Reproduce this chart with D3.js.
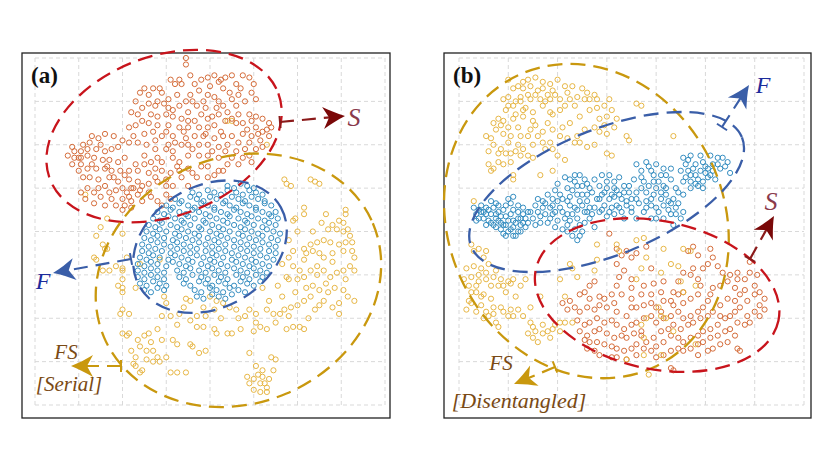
<!DOCTYPE html>
<html>
<head>
<meta charset="utf-8">
<script src="https://cdn.jsdelivr.net/npm/d3@7"></script>
<style>
  body { margin: 0; background: #fff; }
</style>
</head>
<body>
<svg id="chart"></svg>
<script>
// embedding coordinates (grid cell = 20 units)
// panel (a) - serial
const aS = [[69,160],[69,157],[66,150],[71,152],[73,148],[79,151],[82,152],[84,149],[87,151],[90,152],[95,152],[98,151],[100,148],[92,148],[80,147],[86,146],[64,148],[67,148],[57,146],[54,146],[50,146],[48,144],[52,143],[58,144],[61,141],[69,140],[72,140],[75,145],[79,143],[82,142],[89,144],[93,143],[99,144],[101,141],[96,140],[92,138],[86,138],[83,137],[78,137],[74,138],[66,138],[61,137],[56,140],[55,138],[46,140],[44,135],[47,134],[49,137],[53,134],[56,133],[60,134],[63,133],[67,132],[70,131],[73,131],[76,134],[79,132],[84,134],[88,135],[93,134],[98,134],[101,133],[104,132],[107,130],[108,128],[104,126],[101,128],[99,131],[95,130],[92,130],[87,131],[82,129],[79,128],[75,128],[70,128],[66,128],[61,129],[56,129],[52,130],[49,131],[46,129],[43,128],[50,125],[54,126],[58,124],[63,124],[64,121],[69,123],[73,124],[77,124],[82,123],[86,124],[90,124],[95,125],[99,124],[103,122],[107,124],[104,119],[101,118],[98,121],[93,121],[88,120],[84,119],[79,120],[75,120],[72,118],[67,120],[63,117],[60,118],[55,118],[51,120],[47,121],[43,121],[40,122],[36,124],[32,125],[29,123],[26,124],[35,118],[32,117],[28,118],[24,118],[21,117],[18,117],[15,115],[18,114],[21,114],[24,115],[27,114],[31,113],[34,113],[38,112],[41,114],[46,111],[50,111],[53,112],[58,112],[63,114],[66,112],[70,115],[75,115],[79,115],[84,114],[87,117],[92,117],[95,114],[98,115],[99,112],[93,111],[88,111],[76,110],[70,109],[66,108],[62,107],[58,108],[55,109],[52,107],[47,108],[43,108],[39,108],[35,108],[32,109],[28,109],[24,109],[21,111],[20,108],[22,105],[25,105],[29,104],[34,105],[38,103],[43,104],[47,103],[52,102],[56,103],[60,101],[63,101],[67,105],[70,101],[74,105],[79,105],[82,106],[86,108],[29,100],[32,101],[37,99],[40,100],[44,100],[49,101],[52,98],[24,100],[21,98],[23,95],[27,93],[30,96],[35,95],[40,95],[43,96],[47,97],[49,94],[41,92],[44,91],[37,92],[32,92],[40,90],[53,96],[56,94],[60,97],[58,92],[62,95],
[62,150],[76,150],[85,150],[94,146],[90,141],[84,140],[77,140],[71,143],[65,143],[59,139],[52,139],[63,136],[70,135],[81,133],[90,132],[97,127],[85,126],[78,125],[68,126],[60,126],[55,122],[61,120],[70,120],[81,117],[90,114],[96,118],[102,125],[106,127],[45,124],[38,119],[30,120],[25,121],[20,114],[17,111],[26,111],[33,110],[36,105],[41,106],[45,100],[55,105],[60,104],[65,110],[72,107],[79,110],[84,108],[27,98],[34,98],[42,98],[44,94],[48,99],[17,119],[22,120],[50,115],[56,114]];

const aF = [[88,101],[91,100],[94,102],[97,101],[100,100],
[72,98],[75,97],[79,99],[82,98],[85,97],[88,99],[92,98],[95,97],[98,99],[101,98],[104,97],
[64,95],[67,94],[71,96],[74,95],[77,94],[80,96],[83,95],[87,94],[90,96],[93,95],[96,94],[99,96],[102,95],[105,94],
[60,92],[63,91],[66,93],[70,92],[73,91],[76,93],[79,92],[82,91],[86,93],[89,92],[92,91],[95,93],[98,92],[101,91],[105,93],[108,92],
[56,89],[59,88],[62,90],[66,89],[69,88],[72,90],[75,89],[78,88],[82,90],[85,89],[88,88],[91,90],[94,89],[97,88],[101,90],[104,89],[107,88],[110,89],
[54,86],[57,85],[61,87],[64,86],[67,85],[70,87],[73,86],[77,85],[80,87],[83,86],[86,85],[89,87],[93,86],[96,85],[99,87],[102,86],[105,85],[108,87],[111,86],
[52,83],[55,82],[58,84],[62,83],[65,82],[68,84],[71,83],[75,82],[78,84],[81,83],[84,82],[88,84],[91,83],[94,82],[97,84],[100,83],[104,82],[107,84],[110,83],
[51,80],[54,79],[57,81],[60,80],[64,79],[67,81],[70,80],[73,79],[76,81],[80,80],[83,79],[86,81],[89,80],[93,79],[96,81],[99,80],[102,79],[106,81],[109,80],[112,79],
[50,77],[53,76],[56,78],[59,77],[63,76],[66,78],[69,77],[72,76],[75,78],[79,77],[82,76],[85,78],[88,77],[91,76],[95,78],[98,77],[101,76],[104,78],[108,77],[111,76],
[49,74],[52,73],[56,75],[59,74],[62,73],[65,75],[68,74],[71,73],[75,75],[78,74],[81,73],[84,75],[87,74],[91,73],[94,75],[97,74],[100,73],[104,75],[107,74],[110,73],
[49,71],[52,70],[55,72],[58,71],[62,70],[65,72],[68,71],[71,70],[74,72],[78,71],[81,70],[84,72],[87,71],[90,70],[94,72],[97,71],[100,70],[103,72],[107,71],[110,70],
[48,68],[51,67],[54,69],[57,68],[61,67],[64,69],[67,68],[70,67],[74,69],[77,68],[80,67],[83,69],[86,68],[90,67],[93,69],[96,68],[99,67],[103,69],[106,68],[109,67],
[47,65],[50,64],[53,66],[56,65],[60,64],[63,66],[66,65],[69,64],[72,66],[76,65],[79,64],[82,66],[85,65],[88,64],[92,66],[95,65],[98,64],[101,66],[104,65],[107,64],
[47,62],[50,61],[53,63],[56,62],[59,61],[65,62],[68,61],[71,63],[75,62],[78,61],[81,63],[84,62],[87,61],[91,63],[94,62],[97,61],[100,63],[103,62],[106,61],
[47,59],[50,58],[53,60],[56,59],[59,58],[66,59],[69,58],[72,60],[76,59],[79,58],[82,60],[85,59],[88,58],[92,60],[95,59],[98,58],[101,60],[104,59],
[48,56],[51,55],[54,57],[57,56],[60,55],[68,56],[71,55],[75,57],[78,56],[81,55],[84,57],[87,56],[91,55],[94,57],[97,56],[100,55],[103,57],
[50,53],[53,52],[56,54],[59,53],[73,53],[76,52],[80,54],[83,53],[86,52],[89,54],[93,53],[96,52],
[74,50],[77,49],[81,51],[84,50],[87,49],[90,51]];

const aFS = [[114,104],[117,101],[115,102],[123,91],[123,88],[118,85],[119,86],[133,88],[134,81],[139,85],[141,84],[142,90],[142,88],[138,81],[141,80],[143,81],[144,78],[142,75],[139,74],[135,75],[132,76],[129,75],[126,74],[123,72],[118,71],[116,76],[116,68],[113,65],[118,64],[123,67],[124,70],[127,71],[130,70],[132,68],[136,70],[141,71],[145,71],[146,68],[144,64],[141,62],[138,61],[135,59],[132,62],[129,64],[126,62],[123,59],[120,58],[116,58],[115,59],[124,54],[127,55],[130,53],[133,56],[137,54],[141,53],[143,50],[146,48],[139,47],[139,42],[136,45],[132,48],[130,46],[126,50],[123,48],[120,46],[117,45],[114,44],[112,42],[110,38],[116,41],[121,36],[123,35],[118,36],[104,54],[106,44],[109,42],[101,42],[98,44],[96,41],[92,44],[89,45],[86,47],[83,48],[80,50],[82,44],[78,41],[74,41],[71,39],[68,45],[66,42],[62,41],[58,41],[71,48],[69,49],[74,36],[77,36],[82,35],[83,33],[88,33],[90,33],[101,38],[103,36],[106,35],[100,34],[59,50],[60,47],[56,35],[52,33],[50,32],[43,33],[40,33],[42,32],[44,25],[48,27],[51,25],[54,25],[56,22],[51,21],[46,22],[45,19],[49,16],[48,15],[54,20],[57,20],[62,15],[65,15],[69,15],[71,28],[72,27],[75,24],[78,25],[65,28],[63,30],[94,35],[98,24],[101,18],[104,16],[109,16],[110,21],[108,22],[104,13],[103,10],[98,10],[97,13],[100,7],[106,8],[107,12],[103,6],[106,6],[40,44],[43,42],[39,42],[40,54],[40,58],[46,54],[48,65],[57,67],[40,62],[34,62],[31,62],[28,67],[33,72],[28,78],[30,82],[33,86],[40,79],[126,104],[128,103],[130,102],[27,68],[32,72],[37,64],[40,63],[42,68],[38,55],[40,52],[31,74],[88,131],[90,131],[106,120],[23,97],
[120,80],[127,80],[131,84],[136,83],[145,75],[136,66],[129,60],[134,52],[121,62],[111,55],[107,48],[113,50],[119,52],[128,44],[142,58],[146,62],[125,40],[115,35],[93,40],[85,40],[77,45],[65,37],[58,30],[47,30],[53,29],[60,22],[46,18],[102,14],[105,10],[100,12]];

// panel (b) - disentangled
const bFS = [[28,150],[26,149],[24,147],[22,146],[26,146],[29,147],[34,149],[37,148],[40,150],[43,147],[46,147],[34,146],[38,145],[36,143],[33,141],[37,141],[29,141],[25,140],[20,142],[19,136],[23,134],[26,136],[26,133],[22,132],[18,131],[16,132],[14,130],[17,129],[20,128],[24,128],[30,131],[31,129],[34,138],[37,135],[38,134],[41,136],[43,138],[45,141],[41,141],[50,146],[52,144],[55,143],[56,141],[53,141],[51,141],[47,138],[53,136],[56,137],[59,138],[61,141],[62,136],[64,132],[60,133],[59,129],[57,126],[60,125],[55,128],[51,127],[48,124],[44,123],[47,121],[49,121],[42,128],[38,127],[34,126],[32,124],[28,124],[25,124],[21,124],[20,121],[13,123],[11,124],[14,120],[17,118],[16,116],[19,116],[21,116],[23,117],[26,118],[30,120],[34,121],[37,121],[38,118],[35,118],[28,115],[25,115],[21,112],[18,111],[16,112],[12,111],[13,108],[14,109],[22,106],[22,104],[33,106],[38,108],[43,113],[52,119],[60,116],[62,115],[68,124],[69,122],[72,139],[74,138],[87,124],[6,94],[18,141],[20,138],[22,138],[28,143],[31,143],[25,142],
[23,140],[27,137],[30,135],[32,145],[35,140],[39,143],[44,144],[48,142],[49,133],[45,130],[41,124],[36,130],[29,127],[18,125],[15,127],[12,117],[24,120],[30,114],[40,115],[57,132],[63,128],[55,120],[20,150],[31,151],
[6,71],[10,68],[11,71],[3,63],[6,64],[9,63],[11,61],[2,58],[5,59],[8,57],[11,58],[14,59],[17,58],[20,57],[22,58],[25,55],[16,55],[18,55],[21,56],[7,55],[5,52],[7,52],[10,51],[13,49],[14,45],[17,45],[4,48],[5,47],[9,46],[7,43],[11,43],[12,41],[15,38],[16,36],[18,43],[20,41],[22,41],[24,44],[21,44],[29,38],[30,36],[28,33],[30,31],[32,29],[34,33],[36,34],[38,35],[34,37],[39,37],[41,38],[46,38],[43,38],[27,58],[33,50],[41,58],[43,50],[46,63],[45,65],[48,59],[56,74],[56,67],[55,62],[64,74],[65,71],[72,76],[75,77],[72,58],[74,63],[76,68],[82,61],[86,65],[89,64],[91,72],[94,71],[83,72],[90,57],[91,52],[96,55],[81,45],[76,40],[74,37],[75,31],[82,41],[84,40],[68,21],[77,14],[75,23],[82,23],[87,34],[96,28],[5,74],[8,72],
[4,55],[9,50],[13,55],[19,52],[23,50],[8,60],[12,65],[15,62],[3,44],[10,40],[14,42],[26,41],[31,34],[37,31],[41,34],[29,45]];

const bF = [[6,91],[7,88],[7,85],[9,89],[10,86],[11,91],[13,88],[14,91],[15,86],[16,89],[17,84],[18,90],[19,87],[19,83],[20,80],[21,88],[22,85],[22,82],[23,78],[24,89],[24,86],[25,83],[26,88],[20,95],[22,96],[19,78],[22,78],[24,80],[27,86],[28,89],[11,83],[13,84],[15,82],[17,81],[9,92],[13,94],[16,92],[24,92],[29,89],[8,90],[17,87],[26,84],[15,88],[20,85],
[8,86],[10,89],[12,85],[14,83],[16,85],[18,83],[21,81],[23,84],[25,86],[27,82],[12,90],[15,93],[19,92],[22,90],[26,91],[28,84],[11,88],[21,93],[18,79],[25,80],
[30,86],[32,89],[33,84],[32,95],[34,94],[36,97],[37,91],[38,88],[40,94],[38,95],[40,85],[42,89],[44,94],[44,100],[45,104],[47,103],[48,97],[47,91],[48,86],[49,83],[51,89],[52,94],[53,100],[55,104],[51,104],[50,101],[53,86],[55,91],[56,95],[36,84],[39,82],[44,83],[46,78],[48,76],[50,80],[47,81],[43,105],[49,106],[42,81],[35,88],[34,91],[55,82],[38,92],[44,88],[49,94],[52,97],[41,97],[45,96],[51,84],
[31,92],[33,87],[35,93],[37,86],[39,89],[41,91],[43,86],[45,92],[46,88],[48,90],[50,92],[52,89],[54,88],[42,95],[46,99],[48,101],[52,102],[54,98],[50,97],[39,99],[44,80],[49,78],[45,85],[53,91],[31,83],[40,102],[47,106],
[57,101],[59,98],[60,103],[61,95],[63,100],[64,92],[65,97],[67,101],[68,94],[59,92],[61,89],[57,89],[63,88],[66,89],[69,98],[70,89],[72,95],[74,100],[75,103],[72,86],[61,106],[65,105],[57,95],[67,86],[58,106],[63,96],[70,95],[62,91],[67,98],
[58,97],[60,100],[62,97],[64,99],[66,95],[68,92],[70,91],[72,98],[73,93],[60,87],[65,91],[69,101],[71,104],[63,103],[58,90],
[72,111],[74,108],[76,112],[78,108],[80,111],[82,106],[79,103],[83,101],[86,104],[84,97],[82,98],[79,97],[78,92],[80,91],[83,92],[87,95],[88,91],[86,88],[83,86],[80,86],[88,100],[91,97],[76,94],[75,89],[78,86],[86,109],[90,86],[87,83],[80,100],[84,100],[76,98],[86,93],[91,89],
[74,105],[77,101],[79,106],[81,103],[84,106],[85,94],[82,95],[81,89],[78,95],[76,91],[89,98],[88,88],[85,90],[89,93],[77,110],[83,109],
[90,108],[92,111],[94,106],[95,109],[97,104],[98,108],[99,112],[101,109],[94,103],[91,103],[99,103],[102,115],[105,114],[107,114],[109,112],[103,111],[106,109],[102,106],[97,101],[99,100],[94,100],[110,107],[91,114],[94,115],[98,115],[96,111],[101,105],[92,105],
[93,108],[96,106],[100,107],[103,108],[105,111],[108,110],[104,104],[96,102],[100,110],[93,113]];

const bS = [[61,79],[64,72],[66,69],[68,71],[70,68],[64,65],[67,62],[65,59],[70,58],[72,70],[76,73],[78,63],[75,55],[79,56],[83,57],[89,57],[87,52],[82,52],[78,51],[74,51],[70,49],[66,51],[62,51],[57,50],[53,49],[51,52],[49,51],[55,57],[53,55],[45,48],[42,47],[44,44],[47,45],[49,43],[52,45],[55,44],[57,46],[60,45],[63,47],[64,43],[68,41],[70,45],[72,45],[75,46],[78,47],[80,45],[83,48],[86,48],[89,51],[91,47],[94,49],[97,51],[98,55],[97,58],[94,60],[91,61],[95,63],[99,63],[101,65],[95,73],[93,71],[97,69],[102,72],[103,68],[105,64],[107,61],[110,60],[113,58],[116,58],[118,61],[118,66],[121,60],[120,55],[122,52],[124,49],[122,46],[120,43],[122,41],[117,48],[114,51],[112,54],[109,57],[106,55],[103,54],[102,51],[101,48],[99,45],[97,43],[94,41],[91,40],[89,43],[86,41],[83,40],[80,38],[78,41],[75,40],[72,38],[70,37],[67,35],[64,37],[62,39],[59,38],[56,40],[53,38],[51,37],[48,39],[49,34],[52,32],[55,34],[57,35],[60,33],[63,31],[66,32],[68,31],[71,33],[74,32],[76,29],[79,31],[82,34],[85,35],[87,37],[90,35],[93,37],[95,38],[98,40],[101,41],[103,43],[106,46],[109,49],[112,48],[114,45],[117,41],[118,38],[116,37],[113,38],[110,41],[108,40],[105,37],[102,35],[99,34],[97,32],[94,31],[91,29],[89,31],[86,32],[83,29],[80,27],[78,25],[75,26],[72,28],[70,26],[67,25],[64,26],[62,27],[59,28],[56,29],[53,29],[51,30],[52,26],[55,25],[57,23],[62,22],[64,22],[68,21],[72,23],[80,22],[83,23],[86,25],[89,26],[91,25],[94,26],[97,28],[99,29],[102,31],[105,32],[108,34],[110,35],[112,32],[109,29],[106,28],[103,26],[101,25],[97,23],[86,17],[87,16],[113,26],[114,25],[113,61],[74,34],[82,43],[87,46],[106,41],[112,43],[120,51],[124,44],[59,49],[70,54],[64,55],[116,53],[91,52]];

const colors = { F: "#2a87bd", S: "#d2642f", FS: "#e5b23c" };

const svg = d3.select("#chart").attr("width", 831).attr("height", 472);
svg.append("rect").attr("width", 831).attr("height", 472).attr("fill", "#fff");

// layout of the two panels
const panels = [
  {
    tag: "(a)", frame: [22, 53, 390, 418], xMax: 160, xRange: [35, 385],
    series: [[aFS, "FS"], [aS, "S"], [aF, "F"]],
    ellipses: [
      { c: [59, 124], rx: 122, ry: 80, rot: -20.5, color: "#c8141c" },
      { c: [93, 57.5], rx: 146, ry: 123, rot: -23, color: "#c9980e" },
      { c: [80, 73], rx: 81, ry: 61, rot: -29, color: "#3a5ea8" }
    ],
    arrows: [
      { from: [280, 122], to: [345, 116], line: "#8b1a1a", head: "#7a0808" },
      { from: [131, 259], to: [53, 273], line: "#3a5ea8", head: "#3a5ea8" },
      { from: [121, 366], to: [71, 366], line: "#c9980e", head: "#c9980e" }
    ],
    labels: [
      { t: "S", x: 354, y: 126, size: 26, color: "#8a3a4c" },
      { t: "F", x: 43, y: 289, size: 24, color: "#1c2c9c" },
      { t: "FS", x: 66, y: 359, size: 21, color: "#7a4a14" },
      { t: "[Serial]", x: 69, y: 391, size: 21, color: "#7a4a14" }
    ]
  },
  {
    tag: "(b)", frame: [444, 53, 811, 418], xMax: 140, xRange: [459, 804],
    series: [[bS, "S"], [bF, "F"], [bFS, "FS"]],
    ellipses: [
      { c: [51.7, 84.8], rx: 138, ry: 161, rot: -25, color: "#c9980e" },
      { c: [59.9, 98.2], rx: 146, ry: 63, rot: -22, color: "#3a5ea8" },
      { c: [80.4, 50.7], rx: 124, ry: 74, rot: 12, color: "#c8141c" }
    ],
    arrows: [
      { from: [722, 127], to: [749, 85], line: "#3a5ea8", head: "#3a5ea8" },
      { from: [750, 259], to: [774, 216], line: "#8b1a1a", head: "#7a0808" },
      { from: [555, 367], to: [514, 384], line: "#c9980e", head: "#c9980e" }
    ],
    labels: [
      { t: "F", x: 763, y: 93, size: 24, color: "#1c2c9c" },
      { t: "S", x: 771, y: 210, size: 26, color: "#8a3a4c" },
      { t: "FS", x: 501, y: 370, size: 21, color: "#7a4a14" },
      { t: "[Disentangled]", x: 519, y: 408, size: 22, color: "#7a4a14" }
    ]
  }
];

const y = d3.scaleLinear().domain([0, 160]).range([405, 58]);

function drawArrow(g, a) {
  let dx = a.to[0] - a.from[0], dy = a.to[1] - a.from[1];
  let len = Math.hypot(dx, dy), ang = Math.atan2(dy, dx) * 180 / Math.PI;
  let ux = dx / len, uy = dy / len;
  // shaft stops inside the head
  g.append("line")
    .attr("x1", a.from[0]).attr("y1", a.from[1])
    .attr("x2", a.to[0] - ux * 15).attr("y2", a.to[1] - uy * 15)
    .attr("stroke", a.line).attr("stroke-width", 2.2)
    .attr("stroke-dasharray", "14,8");
  // bar at the tail
  g.append("line")
    .attr("x1", a.from[0] - uy * 6).attr("y1", a.from[1] + ux * 6)
    .attr("x2", a.from[0] + uy * 6).attr("y2", a.from[1] - ux * 6)
    .attr("stroke", a.line).attr("stroke-width", 2);
  g.append("path")
    .attr("d", "M0,0 C-8,-3 -15,-7 -22,-11 L-16,0 L-22,11 C-15,7 -8,3 0,0Z")
    .attr("transform", `translate(${a.to[0]},${a.to[1]}) rotate(${ang})`)
    .attr("fill", a.head);
}

panels.forEach(function (p) {
  let g = svg.append("g");
  let x = d3.scaleLinear().domain([0, p.xMax]).range(p.xRange);

  // dashed grid
  g.selectAll(".vgrid").data(d3.range(0, p.xMax + 1, 20)).join("line")
    .attr("x1", d => x(d)).attr("x2", d => x(d))
    .attr("y1", y(0)).attr("y2", y(160))
    .attr("stroke", "#d9d9d9").attr("stroke-width", 1).attr("stroke-dasharray", "4,3");
  g.selectAll(".hgrid").data(d3.range(0, 161, 20)).join("line")
    .attr("x1", x(0)).attr("x2", x(p.xMax))
    .attr("y1", d => y(d)).attr("y2", d => y(d))
    .attr("stroke", "#d9d9d9").attr("stroke-width", 1).attr("stroke-dasharray", "4,3");

  // points
  p.series.forEach(function (s) {
    g.append("g").selectAll("circle").data(s[0]).join("circle")
      .attr("cx", d => x(d[0])).attr("cy", d => y(d[1]))
      .attr("r", 2.6)
      .attr("fill", "none")
      .attr("stroke", colors[s[1]])
      .attr("stroke-width", 0.95);
  });

  // frame
  g.append("rect")
    .attr("x", p.frame[0]).attr("y", p.frame[1])
    .attr("width", p.frame[2] - p.frame[0]).attr("height", p.frame[3] - p.frame[1])
    .attr("fill", "none").attr("stroke", "#222").attr("stroke-width", 1.3);

  // cluster ellipses
  p.ellipses.forEach(function (e) {
    let cx = x(e.c[0]), cy = y(e.c[1]);
    g.append("ellipse")
      .attr("cx", cx).attr("cy", cy).attr("rx", e.rx).attr("ry", e.ry)
      .attr("transform", `rotate(${e.rot},${cx},${cy})`)
      .attr("fill", "none").attr("stroke", e.color)
      .attr("stroke-width", 2.3).attr("stroke-dasharray", "15,8");
  });

  p.arrows.forEach(a => drawArrow(g, a));

  p.labels.forEach(function (l) {
    g.append("text").text(l.t)
      .attr("x", l.x).attr("y", l.y)
      .attr("text-anchor", "middle")
      .attr("font-family", "Liberation Serif, serif")
      .attr("font-style", "italic")
      .attr("font-size", l.size)
      .attr("fill", l.color);
  });

  g.append("text").text(p.tag)
    .attr("x", p.frame[0] + 9).attr("y", p.frame[1] + 30)
    .attr("font-family", "Liberation Serif, serif")
    .attr("font-weight", "bold")
    .attr("font-size", 23)
    .attr("fill", "#111");
});
</script>
</body>
</html>
